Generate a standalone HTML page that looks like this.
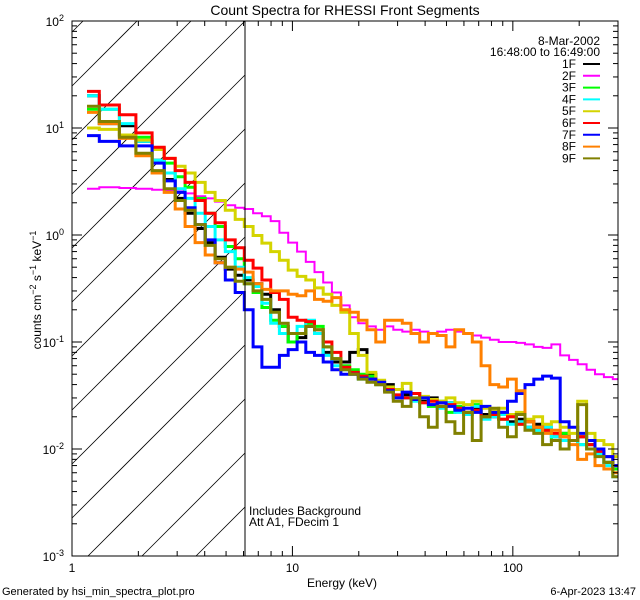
<!DOCTYPE html>
<html><head><meta charset="utf-8">
<style>
html,body{margin:0;padding:0;background:#fff;width:640px;height:600px;overflow:hidden;}
svg{display:block;font-family:"Liberation Sans",sans-serif;overflow:hidden;}
</style></head>
<body>
<svg id="chart" width="640" height="600" viewBox="0 0 640 600" xmlns="http://www.w3.org/2000/svg">
<rect x="0" y="0" width="640" height="600" fill="#fff"/>
<text x="345" y="15" font-size="14" text-anchor="middle">Count Spectra for RHESSI Front Segments</text>
<defs><clipPath id="pclip"><rect x="72" y="21" width="546" height="535"/></clipPath></defs>
<g id="hatch"></g>
<g id="series" clip-path="url(#pclip)"></g>
<g id="axes"></g>
<line x1="245" y1="21" x2="245" y2="556" stroke="#000" stroke-width="1"/>
<text x="249" y="515" font-size="12">Includes Background</text>
<text x="249" y="526" font-size="12">Att A1, FDecim 1</text>
<text x="600" y="45" font-size="12" text-anchor="end">8-Mar-2002</text>
<text x="600" y="56" font-size="12" text-anchor="end">16:48:00 to 16:49:00</text>
<g id="legend"></g>
<text x="342" y="587" font-size="12" text-anchor="middle">Energy (keV)</text>
<text transform="translate(41,290) rotate(-90)" font-size="12" text-anchor="middle">counts cm<tspan dy="-5" font-size="9">−2</tspan><tspan dy="5"> s</tspan><tspan dy="-5" font-size="9">−1</tspan><tspan dy="5"> keV</tspan><tspan dy="-5" font-size="9">−1</tspan></text>
<text x="2" y="595" font-size="11">Generated by hsi_min_spectra_plot.pro</text>
<text x="636" y="595" font-size="11" text-anchor="end">6-Apr-2023 13:47</text>
</svg>
<script>
const edges=[1.17,1.33,1.64,1.95,2.31,2.62,2.94,3.26,3.62,4.02,4.46,4.96,5.5,6.05,6.63,7.27,7.97,8.73,9.57,10.5,11.5,12.6,13.8,15.1,16.6,18.2,19.9,21.8,23.9,26.2,28.7,31.5,34.5,37.8,41.4,45.4,49.8,54.6,59.8,65.5,71.8,78.7,86.3,94.6,103.7,113.6,124.5,136.5,149.6,164,180,197,216,236,259,284,300];
const seriesNames=["1F","2F","3F","4F","5F","6F","7F","8F","9F"];
const s1F=[20,11,10.5,7.5,5,3.3,2.2,1.6,1.15,0.85,0.62,0.48,0.42,0.38,0.35,0.28,0.2,0.14,0.1,0.11,0.14,0.12,0.08,0.065,0.065,0.08,0.085,0.05,0.042,0.04,0.036,0.032,0.033,0.028,0.03,0.025,0.027,0.024,0.022,0.024,0.021,0.02,0.022,0.018,0.019,0.016,0.017,0.015,0.013,0.014,0.012,0.013,0.011,0.0095,0.0075,0.0065];
const s2F=[2.7,2.8,2.75,2.7,2.65,2.6,2.55,2.45,2.3,2.2,2.05,1.9,1.8,1.75,1.6,1.5,1.35,1.05,0.85,0.7,0.56,0.45,0.36,0.29,0.22,0.17,0.15,0.14,0.13,0.14,0.13,0.125,0.13,0.125,0.12,0.125,0.13,0.125,0.12,0.115,0.11,0.105,0.1,0.1,0.098,0.095,0.09,0.088,0.095,0.075,0.068,0.062,0.055,0.05,0.047,0.045];
const s3F=[15,15,8.6,8.2,6.5,4.7,3.5,2.8,2.2,1.6,1.2,0.78,0.6,0.35,0.29,0.21,0.16,0.14,0.1,0.12,0.15,0.14,0.09,0.07,0.06,0.055,0.05,0.048,0.04,0.038,0.036,0.03,0.033,0.027,0.025,0.028,0.022,0.025,0.021,0.026,0.02,0.022,0.019,0.02,0.017,0.018,0.015,0.016,0.012,0.014,0.012,0.011,0.011,0.009,0.0075,0.0065];
const s4F=[20,15,11,7.5,5,3.8,2.7,2.2,1.6,1.2,0.9,0.7,0.5,0.4,0.33,0.23,0.15,0.12,0.12,0.14,0.16,0.12,0.075,0.06,0.055,0.05,0.045,0.045,0.04,0.036,0.032,0.03,0.028,0.03,0.026,0.024,0.027,0.022,0.021,0.025,0.019,0.02,0.021,0.017,0.018,0.016,0.015,0.016,0.013,0.012,0.012,0.011,0.01,0.009,0.007,0.0055];
const s5F=[10,9.7,8.6,7.7,6.3,5.2,4.4,3.8,3.1,2.5,2.1,1.7,1.4,1.2,0.99,0.84,0.7,0.58,0.47,0.41,0.38,0.32,0.28,0.22,0.19,0.12,0.075,0.052,0.044,0.038,0.036,0.041,0.033,0.031,0.029,0.028,0.03,0.027,0.026,0.028,0.024,0.023,0.024,0.021,0.022,0.019,0.02,0.017,0.018,0.016,0.014,0.028,0.014,0.012,0.011,0.0085];
const s6F=[22,16.4,13.3,9,6.6,5.2,4,3.1,2.1,1.6,1.3,0.9,0.76,0.58,0.49,0.38,0.29,0.25,0.17,0.16,0.155,0.13,0.1,0.08,0.058,0.052,0.048,0.045,0.04,0.036,0.032,0.03,0.033,0.027,0.028,0.025,0.026,0.024,0.022,0.023,0.02,0.021,0.019,0.02,0.017,0.018,0.016,0.015,0.014,0.013,0.012,0.013,0.011,0.0095,0.0085,0.007];
const s7F=[8.5,7.5,6.8,6.8,4.7,3.2,2.5,1.8,1.25,0.9,0.55,0.38,0.29,0.2,0.09,0.058,0.058,0.075,0.085,0.1,0.08,0.075,0.065,0.055,0.05,0.05,0.046,0.045,0.042,0.035,0.03,0.034,0.029,0.03,0.026,0.027,0.025,0.023,0.024,0.022,0.025,0.022,0.022,0.028,0.033,0.04,0.045,0.048,0.046,0.018,0.016,0.014,0.012,0.01,0.0085,0.007];
const s8F=[14,11,8,5.5,3.8,2.5,1.75,1.2,0.85,0.65,0.55,0.5,0.48,0.45,0.35,0.31,0.3,0.3,0.28,0.27,0.3,0.25,0.24,0.26,0.2,0.19,0.16,0.13,0.1,0.16,0.16,0.15,0.12,0.1,0.12,0.115,0.09,0.13,0.12,0.1,0.06,0.04,0.038,0.045,0.035,0.018,0.016,0.014,0.015,0.013,0.011,0.008,0.009,0.007,0.0065,0.006];
const s9F=[16,11.5,8.2,5.8,4,2.7,2.1,1.7,1.25,0.8,0.6,0.5,0.37,0.35,0.3,0.25,0.19,0.15,0.12,0.12,0.14,0.13,0.09,0.07,0.055,0.05,0.045,0.042,0.04,0.034,0.028,0.025,0.03,0.02,0.016,0.025,0.018,0.014,0.022,0.012,0.02,0.024,0.016,0.013,0.021,0.015,0.014,0.011,0.012,0.01,0.012,0.026,0.01,0.0085,0.0075,0.0055];
const seriesColors=["#000000","#ff00ff","#00ff00","#00ffff","#d4d400","#ff0000","#0000ff","#ff8000","#808000"];
const yTickExps=[-3,-2,-1,0,1,2];
const xTickLabels=[10,100];

const NS="http://www.w3.org/2000/svg";
const X0=72,X1=618,Y0=21,Y1=556,XH=245;
const xMinLog=0,xMaxLog=Math.log10(300),yMinLog=-3,yMaxLog=2;
function xs(e){return X0+(Math.log10(e)-xMinLog)/(xMaxLog-xMinLog)*(X1-X0);}
function ys(v){return Y1-(Math.log10(v)-yMinLog)/(yMaxLog-yMinLog)*(Y1-Y0);}
function mk(tag,attrs,parent){const el=document.createElementNS(NS,tag);for(const k in attrs)el.setAttribute(k,attrs[k]);parent.appendChild(el);return el;}

const hatch=document.getElementById('hatch');
for(let c=158-54*10;c<900;c+=54){
  // line: y = c - x ; clip to x in [X0,XH], y in [Y0,Y1]
  let xa=Math.max(X0,c-Y1), xb=Math.min(XH,c-Y0);
  if(xb<=xa) continue;
  const ln=mk('line',{x1:xa,y1:c-xa,x2:xb,y2:c-xb,stroke:'#000','stroke-width':0.8},hatch);
  
  
}

const allSeries=[s1F,s2F,s3F,s4F,s5F,s6F,s7F,s8F,s9F];
const sg=document.getElementById('series');
allSeries.forEach((vals,i)=>{
  let d='';
  for(let b=0;b<vals.length;b++){
    const xa=xs(edges[b]).toFixed(1),xb=xs(edges[b+1]).toFixed(1),y=ys(vals[b]).toFixed(1);
    d+=(b===0?'M':'L')+xa+','+y+'L'+xb+','+y;
  }
  const p=mk('path',{d:d,fill:'none',stroke:seriesColors[i],'stroke-width':i===1?2:3,'stroke-linejoin':'miter'},sg);
  
  
});

const ax=document.getElementById('axes');
const frame=mk('rect',{x:X0,y:Y0,width:X1-X0,height:Y1-Y0,fill:'none',stroke:'#000','stroke-width':1},ax);


for(let e=-3;e<=2;e++){
  for(let m=1;m<10;m++){
    const v=m*Math.pow(10,e);if(e===2&&m>1)break;
    const y=ys(v);const len=m===1?10:5;
    const t1=mk('line',{x1:X0,y1:y,x2:X0+len,y2:y,stroke:'#000'},ax);
    
    
    const t2=mk('line',{x1:X1,y1:y,x2:X1-len,y2:y,stroke:'#000'},ax);
    
    
  }
}
yTickExps.forEach(e=>{
  const t=mk('text',{x:X0-8,y:ys(Math.pow(10,e))+5,'font-size':12,'text-anchor':'end'},ax);
  t.innerHTML='10<tspan dy="-5" font-size="9">'+e+'</tspan>';
  
  
});
for(let e=0;e<=2;e++){
  for(let m=1;m<10;m++){
    const v=m*Math.pow(10,e);if(v>300)break;
    const x=xs(v);const len=m===1?10:5;
    const t1=mk('line',{x1:x,y1:Y1,x2:x,y2:Y1-len,stroke:'#000'},ax);
    
    
    const t2=mk('line',{x1:x,y1:Y0,x2:x,y2:Y0+len,stroke:'#000'},ax);
    
    
  }
}
[1].concat(xTickLabels).forEach(v=>{
  const t=mk('text',{x:xs(v),y:Y1+16,'font-size':12,'text-anchor':'middle'},ax);
  t.textContent=String(v);
  
  
});

const lg=document.getElementById('legend');
seriesNames.forEach((n,i)=>{
  const y=64+i*11.8;
  const t=mk('text',{x:576,y:y+4,'font-size':12,'text-anchor':'end'},lg);
  t.textContent=n;
  
  
  const l=mk('line',{x1:583,y1:y,x2:600,y2:y,stroke:seriesColors[i],'stroke-width':2},lg);
  
  
});
</script>
</body></html>
